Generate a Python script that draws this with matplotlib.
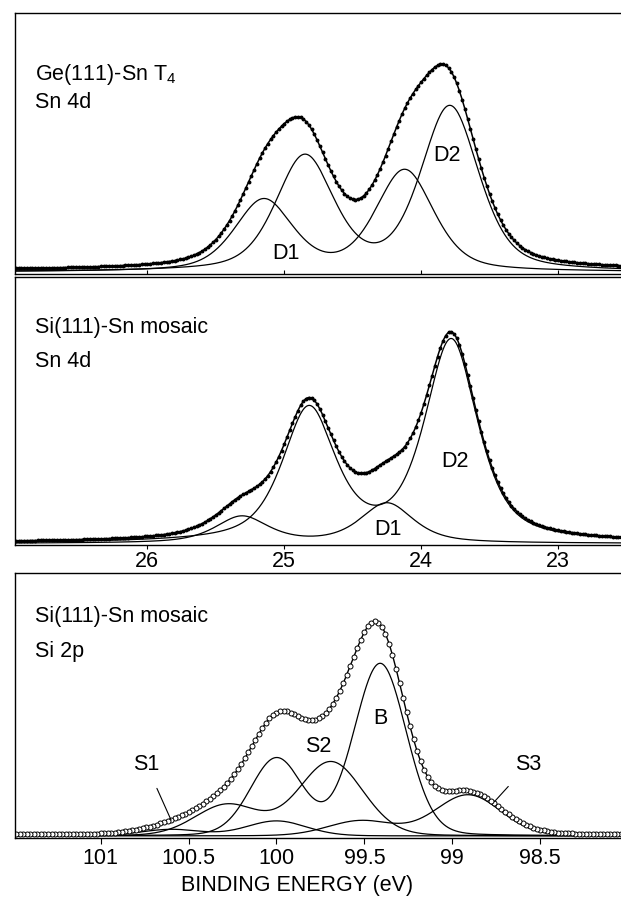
import numpy as np
import matplotlib.pyplot as plt

plt.rcParams['font.family'] = ['Liberation Sans', 'DejaVu Sans']
plt.rcParams['mathtext.fontset'] = 'custom'
plt.rcParams['mathtext.rm'] = 'Liberation Sans'

# Sn 4d, Ge(111)-Sn T4 : spin-orbit doublets (peak energy eV, height a.u.)
ge_d1_pos = [24.12, 25.15]
ge_d1_amp = [101, 71]
ge_d2_pos = [23.79, 24.85]
ge_d2_amp = [164, 114]
ge_hwhm, ge_eta, ge_bg = 0.25, 0.45, 1.5

# Sn 4d, Si(111)-Sn mosaic
si_d1_pos = [24.25, 25.31]
si_d1_amp = [40, 26.5]
si_d2_pos = [23.78, 24.82]
si_d2_amp = [201, 132]
si_hwhm, si_eta, si_bg = 0.23, 0.65, 0.5

# Si 2p, Si(111)-Sn mosaic : B, S1, S2, S3
si2p_pos = [[99.41, 100.0], [100.0, 100.6], [99.69, 100.28], [98.91, 99.52]]
si2p_amp = [[172, 77], [15, 6.5], [74, 31], [41, 15]]
si2p_hwhm = [0.175, 0.2, 0.215, 0.22]
si2p_eta, si2p_bg = 0.1, 1.0

sn_ticks = [26, 25, 24, 23]
si_ticks = [101, 100.5, 100, 99.5, 99, 98.5]
si_ticklabels = ['101', '100.5', '100', '99.5', '99', '98.5']


def doublet(e, pos, amp, hw, eta):
    y = np.zeros_like(e)
    for p, a in zip(pos, amp):
        x = (e - p) / hw
        y += a * (eta / (1 + x**2) + (1 - eta) * np.exp(-np.log(2) * x**2))
    return y


def style(ax, ylim):
    ax.spines['right'].set_visible(False)
    for s in ['left', 'top', 'bottom']:
        ax.spines[s].set_linewidth(1.0)
    ax.set_yticks([])
    ax.set_ylim(*ylim)


fig = plt.figure(figsize=(6.21, 8.99), dpi=100)
left, width = 0.0235, 0.9765
ax1 = fig.add_axes([left, 0.6952, width, 0.2900])
ax2 = fig.add_axes([left, 0.3938, width, 0.2981])
ax3 = fig.add_axes([left, 0.0679, width, 0.2948])
fs = 15.5

# ---------- panel 1 ----------
e = np.arange(22.4, 27.1, 0.005)
ed = np.arange(22.5, 27.0, 0.02)
d1 = doublet(e, ge_d1_pos, ge_d1_amp, ge_hwhm, ge_eta)
d2 = doublet(e, ge_d2_pos, ge_d2_amp, ge_hwhm, ge_eta)
env = d1 + d2 + ge_bg
envd = (doublet(ed, ge_d1_pos, ge_d1_amp, ge_hwhm, ge_eta)
        + doublet(ed, ge_d2_pos, ge_d2_amp, ge_hwhm, ge_eta) + ge_bg)
ax1.plot(e, d1, color='black', lw=0.9)
ax1.plot(e, d2, color='black', lw=0.9)
ax1.plot(e, env, color='black', lw=1.1)
ax1.plot(ed, envd, 'o', color='black', ms=1.8)
style(ax1, (-2, 258.7))
ax1.set_xlim(26.97, 22.54)
ax1.set_xticks(sn_ticks)
ax1.tick_params(axis='x', direction='in', length=3, labelbottom=False)
ax1.text(0.034, 0.744, r'Ge(111)-Sn T$_\mathregular{4}$', transform=ax1.transAxes, fontsize=fs)
ax1.text(0.034, 0.638, 'Sn 4d', transform=ax1.transAxes, fontsize=fs)
ax1.text(24.99, 18.7, 'D1', fontsize=fs, ha='center', va='center')
ax1.text(23.81, 117, 'D2', fontsize=fs, ha='center', va='center')

# ---------- panel 2 ----------
d1 = doublet(e, si_d1_pos, si_d1_amp, si_hwhm, si_eta)
d2 = doublet(e, si_d2_pos, si_d2_amp, si_hwhm, si_eta)
env = d1 + d2 + si_bg
envd = (doublet(ed, si_d1_pos, si_d1_amp, si_hwhm, si_eta)
        + doublet(ed, si_d2_pos, si_d2_amp, si_hwhm, si_eta) + si_bg)
ax2.plot(e, d1, color='black', lw=0.9)
ax2.plot(e, d2, color='black', lw=0.9)
ax2.plot(e, env, color='black', lw=1.1)
ax2.plot(ed, envd, 'o', color='black', ms=1.8)
style(ax2, (-1.5, 266.5))
ax2.set_xlim(26.97, 22.54)
ax2.set_xticks(sn_ticks)
ax2.set_xticklabels([str(t) for t in sn_ticks])
ax2.tick_params(axis='x', direction='out', length=3, pad=1, labelsize=fs)
ax2.text(0.033, 0.791, 'Si(111)-Sn mosaic', transform=ax2.transAxes, fontsize=fs)
ax2.text(0.033, 0.665, 'Sn 4d', transform=ax2.transAxes, fontsize=fs)
ax2.text(24.24, 13.5, 'D1', fontsize=fs, ha='center', va='center')
ax2.text(23.75, 81.8, 'D2', fontsize=fs, ha='center', va='center')

# ---------- panel 3 ----------
e3 = np.arange(97.9, 101.6, 0.004)
e3d = np.arange(98.04, 101.5, 0.02)
env = np.zeros_like(e3) + si2p_bg
envd = np.zeros_like(e3d) + si2p_bg
for pos, amp, hw in zip(si2p_pos, si2p_amp, si2p_hwhm):
    c = doublet(e3, pos, amp, hw, si2p_eta)
    ax3.plot(e3, c, color='black', lw=0.9)
    env += c
    envd += doublet(e3d, pos, amp, hw, si2p_eta)
ax3.plot(e3, env, color='black', lw=1.0)
ax3.plot(e3d, envd, 'o', mfc='white', mec='black', mew=0.7, ms=3.6)
style(ax3, (-2, 263))
ax3.set_xlim(101.49, 98.04)
ax3.set_xticks(si_ticks)
ax3.set_xticklabels(si_ticklabels)
ax3.tick_params(axis='x', direction='out', length=4.5, pad=3, labelsize=fs)
ax3.text(0.033, 0.816, 'Si(111)-Sn mosaic', transform=ax3.transAxes, fontsize=fs)
ax3.text(0.033, 0.684, 'Si 2p', transform=ax3.transAxes, fontsize=fs)
ax3.text(99.76, 89.3, 'S2', fontsize=fs, ha='center', va='center')
ax3.text(99.41, 117.7, 'B', fontsize=fs, ha='center', va='center')
ax3.annotate('S1', xy=(100.60, 16), xytext=(100.74, 71), fontsize=fs,
             ha='center', va='center',
             arrowprops=dict(arrowstyle='-', color='black', lw=0.8, shrinkA=8, shrinkB=0))
ax3.annotate('S3', xy=(98.76, 34.3), xytext=(98.57, 71), fontsize=fs,
             ha='center', va='center',
             arrowprops=dict(arrowstyle='-', color='black', lw=0.8, shrinkA=8, shrinkB=0))

fig.text(297 / 621, 1 - 885 / 899, 'BINDING ENERGY (eV)', fontsize=fs,
         ha='center', va='center')

fig.savefig('out.png', dpi=100)
